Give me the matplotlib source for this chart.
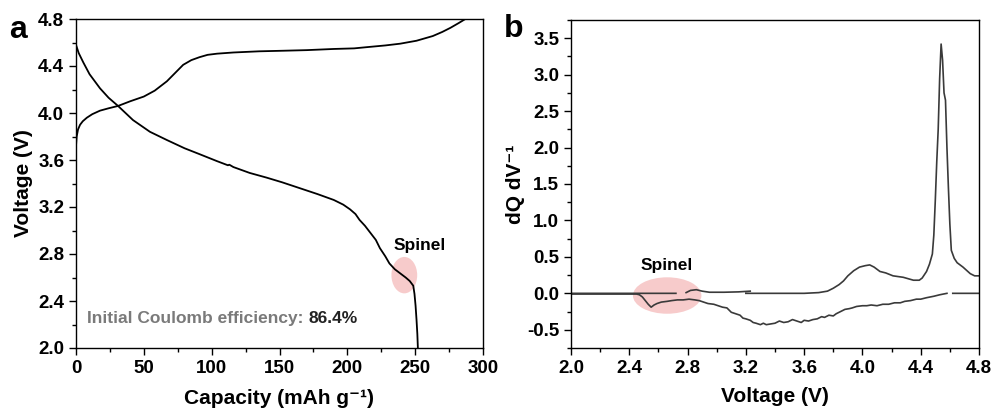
import numpy as np
import matplotlib
matplotlib.use("Agg")
import matplotlib.pyplot as plt
from matplotlib.patches import Ellipse
from matplotlib.ticker import MultipleLocator, FormatStrFormatter

plt.rcParams['font.family'] = ['Liberation Sans', 'DejaVu Sans']
plt.rcParams['font.weight'] = 'bold'

# Panel a: charge / discharge profiles
charge_cap = [0, 0.5, 1.5, 3, 5, 8, 12, 17.7, 24, 31, 40, 50, 58, 67, 73, 79, 85, 91, 97, 104, 116, 135, 153, 170, 190, 205, 214, 228, 239, 251, 263, 270, 276, 282, 287]
charge_v = [3.72, 3.80, 3.86, 3.90, 3.93, 3.96, 3.99, 4.02, 4.04, 4.06, 4.10, 4.14, 4.19, 4.27, 4.34, 4.41, 4.45, 4.475, 4.495, 4.505, 4.515, 4.525, 4.53, 4.535, 4.545, 4.55, 4.56, 4.575, 4.59, 4.615, 4.655, 4.69, 4.725, 4.765, 4.8]
dis_cap = [0, 2, 5.4, 10, 17.7, 24, 31, 42, 54.5, 67, 80, 91, 104, 112, 113, 116, 128, 140.5, 152, 165, 178, 190, 197, 202, 206, 209, 213, 217, 221, 224, 228, 231, 235, 239, 243, 246, 248.6, 249.5, 250.3, 251, 251.6, 252]
dis_v = [4.58, 4.51, 4.43, 4.33, 4.21, 4.13, 4.06, 3.94, 3.84, 3.77, 3.70, 3.65, 3.59, 3.555, 3.56, 3.54, 3.49, 3.45, 3.41, 3.36, 3.31, 3.26, 3.22, 3.18, 3.14, 3.09, 3.04, 2.98, 2.92, 2.85, 2.78, 2.72, 2.67, 2.635, 2.60, 2.57, 2.53, 2.46, 2.36, 2.24, 2.12, 2.0]

# Panel b: dQ/dV
chg_v = [2.0, 2.3, 2.5, 2.72, np.nan, 2.79, 2.82, 2.86, 2.90, 2.95, 3.05, 3.15, 3.23, np.nan, 3.20, 3.4, 3.6, 3.70, 3.76, 3.80, 3.84, 3.87, 3.90, 3.94, 3.98, 4.02, 4.05, 4.08, 4.12, 4.16, 4.21, 4.28, 4.35, 4.39, 4.41, 4.44, 4.46, 4.48, 4.49, 4.50, 4.51, 4.52, 4.53, 4.54, 4.55, 4.56, 4.57, 4.58, 4.59, 4.60, 4.61, 4.63, 4.65, 4.69, 4.74, 4.77, 4.8]
chg_q = [0.0, 0.0, 0.0, 0.0, np.nan, 0.01, 0.04, 0.05, 0.03, 0.015, 0.015, 0.02, 0.03, np.nan, 0.0, 0.0, 0.0, 0.01, 0.03, 0.07, 0.12, 0.17, 0.24, 0.31, 0.36, 0.38, 0.39, 0.36, 0.30, 0.28, 0.24, 0.22, 0.18, 0.18, 0.21, 0.30, 0.40, 0.54, 0.80, 1.27, 1.80, 2.25, 2.95, 3.42, 3.20, 2.75, 2.65, 2.0, 1.45, 0.95, 0.59, 0.48, 0.42, 0.36, 0.27, 0.24, 0.24]
dis_vb = [4.8, 4.70, 4.62, np.nan, 4.58, 4.53, 4.49, 4.44, 4.40, 4.37, 4.33, 4.29, 4.26, 4.22, 4.18, 4.14, 4.10, 4.06, 4.03, 4.00, 3.96, 3.93, 3.91, 3.88, 3.85, 3.82, 3.80, 3.77, 3.74, 3.72, 3.69, 3.66, 3.63, 3.60, 3.58, 3.55, 3.52, 3.49, 3.46, 3.43, 3.40, 3.37, 3.34, 3.32, 3.30, 3.27, 3.25, 3.23, 3.20, 3.18, 3.16, 3.13, 3.10, 3.07, 3.04, 3.01, 2.98, 2.94, 2.91, 2.88, 2.85, 2.81, 2.77, 2.73, 2.69, 2.66, 2.62, 2.59, 2.57, 2.55, 2.53, 2.51, 2.49, 2.47, 2.45, 2.40, 2.3, 2.2, 2.1, 2.0]
dis_qb = [0.0, 0.0, 0.0, np.nan, 0.0, -0.02, -0.04, -0.06, -0.08, -0.08, -0.10, -0.11, -0.13, -0.13, -0.15, -0.15, -0.17, -0.16, -0.17, -0.17, -0.18, -0.20, -0.21, -0.22, -0.25, -0.28, -0.31, -0.30, -0.33, -0.32, -0.35, -0.36, -0.38, -0.37, -0.40, -0.38, -0.36, -0.39, -0.40, -0.38, -0.41, -0.42, -0.43, -0.41, -0.43, -0.41, -0.40, -0.37, -0.35, -0.34, -0.30, -0.28, -0.26, -0.20, -0.19, -0.17, -0.15, -0.14, -0.12, -0.10, -0.09, -0.08, -0.09, -0.09, -0.10, -0.11, -0.12, -0.14, -0.16, -0.19, -0.15, -0.10, -0.05, -0.02, -0.01, -0.01, -0.01, -0.01, -0.01, -0.01]

fig = plt.figure(figsize=(9.92, 4.12), dpi=100)
axa = fig.add_axes([76/992, 64/412, 407/992, 329/412])
axb = fig.add_axes([571/992, 64/412, 408/992, 328/412])

tick_fs = 13.5
for ax in (axa, axb):
    ax.tick_params(which='both', direction='out', top=False, right=False, labelsize=tick_fs, width=1.0)
    ax.tick_params(which='major', length=5)
    ax.tick_params(which='minor', length=3)
    for s in ax.spines.values():
        s.set_linewidth(1.0)

# Panel a
axa.plot(charge_cap, charge_v, color='black', lw=1.3)
axa.plot(dis_cap, dis_v, color='black', lw=1.3)
axa.set_xlim(0, 300)
axa.set_ylim(2.0, 4.8)
axa.xaxis.set_major_locator(MultipleLocator(50))
axa.xaxis.set_minor_locator(MultipleLocator(25))
axa.yaxis.set_major_locator(MultipleLocator(0.4))
axa.yaxis.set_minor_locator(MultipleLocator(0.2))
axa.xaxis.set_major_formatter(FormatStrFormatter('%d'))
axa.yaxis.set_major_formatter(FormatStrFormatter('%.1f'))
axa.set_xlabel('Capacity (mAh g\u207b\u00b9)', fontsize=15, fontweight='bold')
axa.xaxis.set_label_coords(0.5, -0.125)
axa.set_ylabel('Voltage (V)', fontsize=15, fontweight='bold')
axa.yaxis.set_label_coords(-0.105, 0.5)
axa.add_patch(Ellipse((242, 2.62), 19, 0.31, facecolor='#f4b6b6', edgecolor='none', alpha=0.7, zorder=1))
axa.text(253.5, 2.87, 'Spinel', fontsize=12.5, fontweight='bold', ha='center', va='center')
t1 = axa.text(8, 2.25, 'Initial Coulomb efficiency: ', fontsize=12.5, fontweight='bold', color='#7a7a7a', ha='left', va='center')
fig.canvas.draw()
bb = t1.get_window_extent()
inv = axa.transData.inverted()
x_end = inv.transform((bb.x1, bb.y0))[0]
axa.text(x_end, 2.25, '86.4%', fontsize=12.5, fontweight='bold', color='#222222', ha='left', va='center')
fig.text(18/992, 1 - 38/412, 'a', fontsize=23, fontweight='bold', ha='center', va='baseline')

# Panel b
axb.plot(chg_v, chg_q, color='#3a3a3a', lw=1.2)
axb.plot(dis_vb, dis_qb, color='#3a3a3a', lw=1.2)
axb.set_xlim(2.0, 4.8)
axb.set_ylim(-0.75, 3.75)
axb.xaxis.set_major_locator(MultipleLocator(0.4))
axb.xaxis.set_minor_locator(MultipleLocator(0.2))
axb.yaxis.set_major_locator(MultipleLocator(0.5))
axb.yaxis.set_minor_locator(MultipleLocator(0.25))
axb.xaxis.set_major_formatter(FormatStrFormatter('%.1f'))
axb.yaxis.set_major_formatter(FormatStrFormatter('%.1f'))
axb.set_xlabel('Voltage (V)', fontsize=15, fontweight='bold')
axb.xaxis.set_label_coords(0.5, -0.118)
axb.set_ylabel('dQ dV\u207b\u00b9', fontsize=15, fontweight='bold')
axb.yaxis.set_label_coords(-0.113, 0.5)
axb.add_patch(Ellipse((2.66, -0.03), 0.47, 0.5, facecolor='#f4b6b6', edgecolor='none', alpha=0.7, zorder=1))
axb.text(2.66, 0.38, 'Spinel', fontsize=12.5, fontweight='bold', ha='center', va='center')
fig.text(514/992, 1 - 37/412, 'b', fontsize=23, fontweight='bold', ha='center', va='baseline')

fig.savefig('out.png', dpi=100)
